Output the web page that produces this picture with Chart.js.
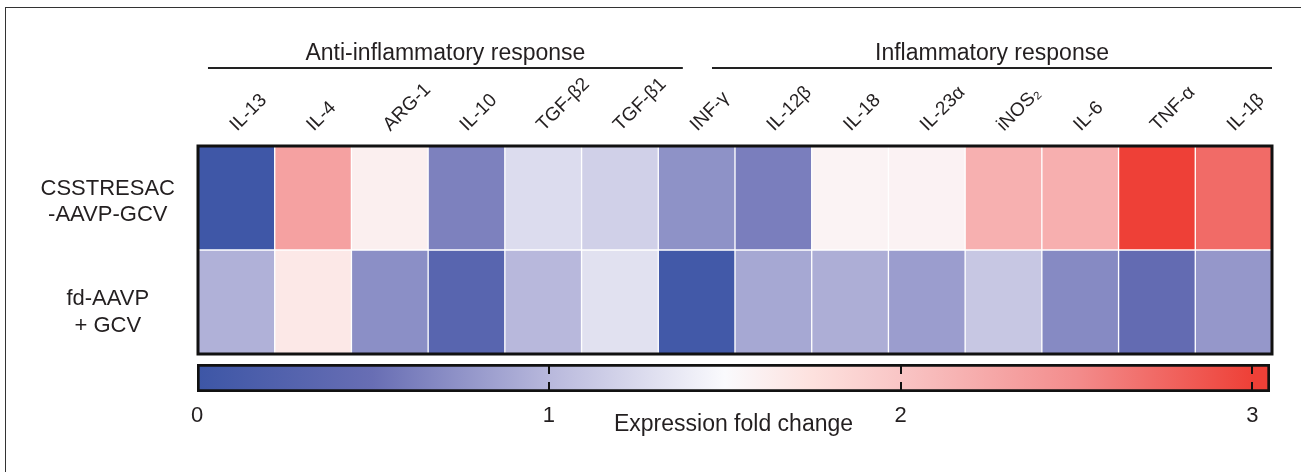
<!DOCTYPE html>
<html>
<head>
<meta charset="utf-8">
<script src="https://cdn.jsdelivr.net/npm/chart.js@4.4.0/dist/chart.umd.min.js"></script>
<style>
  html, body { margin: 0; padding: 0; background: #fff; }
  #wrap { position: relative; width: 1301px; height: 472px; overflow: hidden; }
  #frame { position: absolute; left: 5px; top: 7px; width: 1300px; height: 470px;
           border-top: 1px solid #333; border-left: 1px solid #333; }
  canvas { position: absolute; left: 0; top: 0; }
</style>
</head>
<body>
<div id="wrap">
  <div id="frame"></div>
  <canvas id="heatChart" width="1301" height="472"></canvas>
  <canvas id="scaleChart" width="1301" height="472"></canvas>
</div>
<script>
// genes (columns) and groups
const genes = ['IL-13', 'IL-4', 'ARG-1', 'IL-10', 'TGF-β2', 'TGF-β1', 'INF-γ',
               'IL-12β', 'IL-18', 'IL-23α', 'iNOS₂', 'IL-6', 'TNF-α', 'IL-1β'];
const groupNames = ['Anti-inflammatory response', 'Inflammatory response'];
const groupFirst = [0, 6];
const groupLast = [5, 13];

// rows (treatments)
const rowLabels = [['CSSTRESAC', '-AAVP-GCV'], ['fd-AAVP', '+ GCV']];

// expression fold change
const csstresacValues = [0.02, 2.32, 1.61, 0.63, 1.27, 1.18, 0.74,
                         0.61, 1.57, 1.58, 2.18, 2.19, 3.0, 2.72];
const fdAavpValues = [0.95, 1.68, 0.72, 0.31, 1.0, 1.31, 0.06,
                      0.89, 0.93, 0.82, 1.11, 0.69, 0.44, 0.78];

// colour bar
const colorTicks = [0, 1, 2, 3];
const colorMax = 3.05;
const stopValues = [0, 0.5, 1, 1.5, 1.75, 2, 2.5, 3];
const stopColors = [[61, 86, 166], [104, 110, 180], [184, 184, 220], [250, 250, 253],
                    [253, 225, 222], [249, 197, 197], [243, 140, 140], [238, 64, 55]];

const fontFamily = '"Liberation Sans", Arial, Helvetica, sans-serif';
const textColor = '#231f20';

function rgb(c) {
    return 'rgb(' + c.join(',') + ')';
}

function foldColor(v) {
    if (v <= stopValues[0]) return rgb(stopColors[0]);
    for (let i = 1; i < stopValues.length; i++) {
        if (v <= stopValues[i]) {
            const t = (v - stopValues[i - 1]) / (stopValues[i] - stopValues[i - 1]);
            const a = stopColors[i - 1], b = stopColors[i];
            return rgb(a.map((x, k) => Math.round(x + (b[k] - x) * t)));
        }
    }
    return rgb(stopColors[stopColors.length - 1]);
}

// where the row labels sit on the y scale (row 1 = top band 1..2)
const rowLabelPos = [1.46, 0.4];

const framePlugin = {
    id: 'frame',
    afterDatasetsDraw(chart) {
        const a = chart.chartArea;
        const ctx = chart.ctx;
        ctx.save();
        ctx.strokeStyle = '#111';
        ctx.lineWidth = 3;
        ctx.strokeRect(a.left, a.top, a.right - a.left, a.bottom - a.top);
        ctx.restore();
    }
};

const groupPlugin = {
    id: 'groups',
    afterDraw(chart) {
        const xs = chart.scales.x;
        const top = chart.chartArea.top;
        const startShift = [-0.37, 0.2];
        const endShift = [0.82, 0.5];
        const ctx = chart.ctx;
        ctx.save();
        groupNames.forEach((name, i) => {
            const x1 = xs.getPixelForValue(groupFirst[i] + startShift[i]);
            const x2 = xs.getPixelForValue(groupLast[i] + endShift[i]);
            ctx.strokeStyle = '#222';
            ctx.lineWidth = 2;
            ctx.beginPath();
            ctx.moveTo(x1, top - 78);
            ctx.lineTo(x2, top - 78);
            ctx.stroke();
            ctx.fillStyle = textColor;
            ctx.font = '23px ' + fontFamily;
            ctx.textAlign = 'center';
            ctx.textBaseline = 'middle';
            ctx.fillText(name, (x1 + x2) / 2, top - 92);
        });
        ctx.restore();
    }
};

// dashed tick marks drawn across the colour bar
const barTicksPlugin = {
    id: 'barTicks',
    afterDatasetsDraw(chart) {
        const xs = chart.scales.x;
        const a = chart.chartArea;
        const ctx = chart.ctx;
        ctx.save();
        ctx.strokeStyle = '#111';
        ctx.lineWidth = 2;
        ctx.setLineDash([10, 8]);
        colorTicks.filter(v => v > 0).forEach(v => {
            const x = Math.round(xs.getPixelForValue(v));
            ctx.beginPath();
            ctx.moveTo(x, a.top);
            ctx.lineTo(x, a.bottom);
            ctx.stroke();
        });
        ctx.restore();
    }
};

new Chart(document.getElementById('heatChart'), {
    type: 'bar',
    data: {
        labels: genes,
        datasets: [
            {
                label: 'CSSTRESAC-AAVP-GCV',
                data: genes.map(() => [1, 2]),
                backgroundColor: csstresacValues.map(foldColor)
            },
            {
                label: 'fd-AAVP + GCV',
                data: genes.map(() => [0, 1]),
                backgroundColor: fdAavpValues.map(foldColor)
            }
        ]
    },
    options: {
        responsive: false,
        animation: false,
        layout: { padding: { left: 0, top: 0, right: 29, bottom: 118 } },
        datasets: {
            bar: {
                grouped: false,
                barPercentage: 1,
                categoryPercentage: 1,
                borderColor: 'rgba(255,255,255,0.85)',
                borderWidth: 1,
                borderSkipped: false
            }
        },
        plugins: {
            legend: { display: false },
            tooltip: { enabled: false }
        },
        scales: {
            x: {
                type: 'category',
                position: 'top',
                grid: { display: false },
                border: { display: false },
                afterFit: (s) => { s.height = 146; },
                ticks: {
                    autoSkip: false,
                    minRotation: 45,
                    maxRotation: 45,
                    padding: 2,
                    labelOffset: 13,
                    color: textColor,
                    font: { family: fontFamily, size: 19 }
                }
            },
            y: {
                type: 'linear',
                min: 0,
                max: 2,
                grid: { display: false },
                border: { display: false },
                afterFit: (s) => { s.width = 198; },
                afterBuildTicks: (s) => {
                    s.ticks = rowLabelPos.slice().sort((a, b) => a - b).map(v => ({ value: v }));
                },
                ticks: {
                    crossAlign: 'center',
                    padding: 15,
                    color: textColor,
                    font: { family: fontFamily, size: 22, lineHeight: 1.2 },
                    callback: (v) => rowLabels[rowLabelPos.indexOf(v)]
                }
            }
        }
    },
    plugins: [framePlugin, groupPlugin]
});

new Chart(document.getElementById('scaleChart'), {
    type: 'bar',
    data: {
        labels: ['fold change'],
        datasets: [{
            data: [[0, colorMax]],
            backgroundColor: (c) => {
                const chart = c.chart;
                if (!chart.chartArea) return null;
                const xs = chart.scales.x;
                const g = chart.ctx.createLinearGradient(xs.getPixelForValue(0), 0, xs.getPixelForValue(3), 0);
                stopValues.forEach((v, i) => g.addColorStop(v / 3, rgb(stopColors[i])));
                return g;
            },
            borderColor: '#111',
            borderWidth: 3,
            borderSkipped: false,
            barPercentage: 1,
            categoryPercentage: 1
        }]
    },
    options: {
        indexAxis: 'y',
        responsive: false,
        animation: false,
        layout: { padding: { left: 197, right: 31, top: 364, bottom: 0 } },
        plugins: {
            legend: { display: false },
            tooltip: { enabled: false }
        },
        scales: {
            x: {
                type: 'linear',
                min: 0,
                max: colorMax,
                position: 'bottom',
                afterBuildTicks: (s) => { s.ticks = colorTicks.map(v => ({ value: v })); },
                afterFit: (s) => { s.height = 80; },
                grid: { display: false, drawTicks: false },
                border: { display: false },
                ticks: {
                    padding: 11,
                    color: textColor,
                    font: { family: fontFamily, size: 22 }
                },
                title: {
                    display: true,
                    text: 'Expression fold change',
                    color: textColor,
                    font: { family: fontFamily, size: 23 },
                    padding: { top: 0, bottom: 34 }
                }
            },
            y: { display: false }
        }
    },
    plugins: [barTicksPlugin]
});
</script>
</body>
</html>
